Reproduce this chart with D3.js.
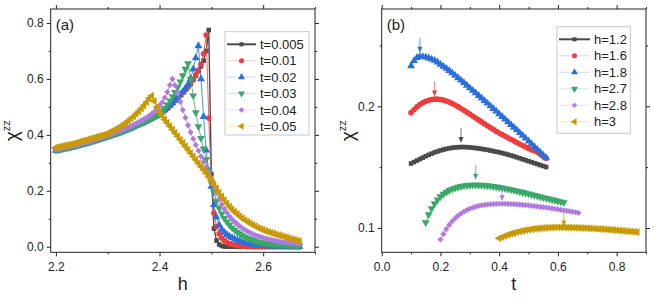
<!DOCTYPE html>
<html>
<head>
<meta charset="utf-8">
<script src="https://cdn.jsdelivr.net/npm/d3@7"></script>
<style>
  body { margin: 0; background: #fff; }
  svg { display: block; }
  text { font-family: "Liberation Sans", Arial, sans-serif; fill: #222; }
</style>
</head>
<body>
<div id="chart"></div>
<script>
// ---------- panel (a): chi_zz vs h, one series per temperature t ----------
let hGrid = [
  2.200, 2.205, 2.210, 2.215, 2.220, 2.225, 2.230, 2.235, 2.240, 2.245,
  2.250, 2.255, 2.260, 2.265, 2.270, 2.275, 2.280, 2.285, 2.290, 2.295,
  2.300, 2.305, 2.310, 2.315, 2.320, 2.325, 2.330, 2.335, 2.340, 2.345,
  2.350, 2.355, 2.360, 2.365, 2.370, 2.375, 2.380, 2.385, 2.390, 2.395,
  2.400, 2.405, 2.410, 2.415, 2.420, 2.425, 2.430, 2.435, 2.440, 2.445,
  2.450, 2.455, 2.460, 2.465, 2.470, 2.475, 2.480, 2.485, 2.490, 2.495,
  2.500, 2.505, 2.510, 2.515, 2.520, 2.525, 2.530, 2.535, 2.540, 2.545,
  2.550, 2.555, 2.560, 2.565, 2.570, 2.575, 2.580, 2.585, 2.590, 2.595,
  2.600, 2.605, 2.610, 2.615, 2.620, 2.625, 2.630, 2.635, 2.640, 2.645,
  2.650, 2.655, 2.660, 2.665, 2.670
];

let chiA_t0005 = [
  .343, .345, .347, .349, .351, .353, .355, .357, .360, .362,
  .365, .367, .370, .372, .375, .378, .381, .384, .387, .390,
  .393, .396, .399, .402, .405, .409, .412, .416, .420, .424,
  .428, .432, .436, .440, .444, .449, .453, .458, .463, .467,
  .472, .479, .487, .495, .504, .513, .522, .531, .541, .551,
  .561, .571, .582, .596, .612, .628, .645, .665, .700, .775,
  .260, .065, .022, .008, .003, .001, 0, 0, 0, 0,
  0, 0, 0, 0, 0, 0, 0, 0, 0, 0,
  0, 0, 0, 0, 0, 0, 0, 0, 0, 0,
  0, 0, 0, 0, 0
];
let chiA_t001 = [
  .344, .346, .348, .350, .352, .354, .356, .358, .361, .363,
  .366, .368, .371, .373, .376, .379, .382, .385, .388, .391,
  .394, .397, .400, .403, .406, .410, .413, .417, .421, .425,
  .429, .433, .437, .441, .445, .450, .454, .459, .464, .468,
  .473, .480, .488, .496, .505, .514, .523, .532, .542, .552,
  .562, .573, .585, .599, .615, .632, .652, .690, .757, .460,
  .230, .120, .072, .046, .031, .022, .015, .011, .008, .006,
  .004, .003, .002, .002, .001, .001, 0, 0, 0, 0,
  0, 0, 0, 0, 0, 0, 0, 0, 0, 0,
  0, 0, 0, 0, 0
];
let chiA_t002 = [
  .344, .346, .348, .350, .352, .354, .356, .358, .361, .363,
  .366, .368, .371, .373, .376, .379, .382, .385, .388, .391,
  .394, .397, .400, .403, .406, .410, .413, .417, .421, .425,
  .429, .433, .437, .441, .446, .450, .455, .460, .465, .469,
  .474, .481, .489, .497, .506, .515, .524, .534, .544, .554,
  .566, .580, .600, .635, .675, .718, .600, .465, .345, .272,
  .215, .150, .105, .078, .062, .051, .043, .037, .032, .027,
  .023, .020, .017, .014, .012, .010, .008, .007, .006, .005,
  .004, .004, .003, .003, .002, .002, .002, .001, .001, .001,
  .001, .001, 0, 0, 0
];
let chiA_t003 = [
  .345, .347, .349, .351, .353, .355, .357, .359, .362, .364,
  .367, .369, .372, .374, .377, .380, .383, .386, .389, .392,
  .395, .398, .401, .404, .407, .411, .414, .418, .422, .426,
  .430, .434, .438, .442, .447, .451, .456, .461, .466, .471,
  .476, .485, .495, .508, .522, .537, .552, .570, .590, .612,
  .635, .655, .600, .540, .480, .430, .388, .350, .312, .272,
  .232, .195, .163, .138, .118, .102, .089, .078, .068, .060,
  .052, .046, .040, .035, .031, .027, .024, .021, .018, .016,
  .014, .012, .011, .010, .009, .008, .007, .006, .005, .005,
  .004, .004, .003, .003, .003
];
let chiA_t004 = [
  .347, .349, .351, .353, .355, .357, .359, .361, .364, .366,
  .369, .371, .374, .376, .379, .382, .385, .388, .391, .394,
  .398, .401, .404, .408, .411, .415, .419, .423, .427, .431,
  .436, .441, .446, .451, .456, .462, .468, .475, .483, .492,
  .503, .516, .533, .553, .578, .600, .577, .548, .518, .489,
  .461, .434, .409, .386, .364, .343, .323, .304, .286, .266,
  .246, .218, .192, .170, .151, .135, .121, .109, .098, .089,
  .081, .073, .066, .060, .055, .050, .045, .041, .038, .035,
  .032, .029, .027, .025, .023, .021, .019, .017, .016, .015,
  .014, .013, .012, .011, .010
];
let chiA_t005 = [
  .355, .357, .359, .361, .363, .365, .367, .369, .372, .375,
  .378, .380, .383, .386, .388, .391, .394, .396, .399, .402,
  .405, .410, .415, .420, .425, .431, .437, .443, .450, .458,
  .466, .475, .484, .494, .505, .517, .530, .540, .520, .500,
  .482, .468, .455, .443, .431, .419, .407, .395, .383, .371,
  .359, .347, .335, .323, .311, .299, .287, .275, .263, .250,
  .238, .223, .208, .194, .180, .167, .155, .144, .134, .125,
  .117, .109, .102, .095, .089, .083, .078, .073, .068, .064,
  .060, .056, .053, .050, .047, .044, .041, .039, .036, .034,
  .030, .027, .025, .022, .020
];
let legendA = ['t=0.005', 't=0.01', 't=0.02', 't=0.03', 't=0.04', 't=0.05'];
let xTicksA = [2.2, 2.4, 2.6], xMinorA = [2.3, 2.5, 2.7];
let yTicksA = [0, 0.2, 0.4, 0.6, 0.8], yMinorA = [0.1, 0.3, 0.5, 0.7];

// ---------- panel (b): chi_zz vs t, one series per field h ----------
let tGrid = [
  0.10, 0.11, 0.12, 0.13, 0.14, 0.15, 0.16, 0.17, 0.18, 0.19,
  0.20, 0.21, 0.22, 0.23, 0.24, 0.25, 0.26, 0.27, 0.28, 0.29,
  0.30, 0.31, 0.32, 0.33, 0.34, 0.35, 0.36, 0.37, 0.38, 0.39,
  0.40, 0.41, 0.42, 0.43, 0.44, 0.45, 0.46, 0.47, 0.48, 0.49,
  0.50, 0.51, 0.52, 0.53, 0.54, 0.55, 0.56, 0.57, 0.58, 0.59,
  0.60, 0.61, 0.62, 0.63, 0.64, 0.65, 0.66, 0.67, 0.68, 0.69,
  0.70, 0.71, 0.72, 0.73, 0.74, 0.75, 0.76, 0.77, 0.78, 0.79,
  0.80, 0.81, 0.82, 0.83, 0.84, 0.85, 0.86, 0.87
];
// first t of each series (looked up in tGrid)
let startB = [0.10, 0.10, 0.10, 0.15, 0.20, 0.40];

let chiB_h12 = [
  .1530, .1542, .1554, .1566, .1578, .1590, .1601, .1611, .1621, .1629,
  .1637, .1644, .1650, .1655, .1659, .1662, .1664, .1665, .1665, .1664,
  .1662, .1660, .1657, .1654, .1650, .1646, .1642, .1637, .1632, .1627,
  .1622, .1616, .1610, .1603, .1596, .1589, .1581, .1573, .1565, .1557,
  .1549, .1541, .1533, .1525, .1517, .1509, .1501
];
let chiB_h16 = [
  .1948, .1972, .1995, .2014, .2029, .2041, .2050, .2056, .2059, .2059,
  .2056, .2051, .2044, .2035, .2024, .2011, .1997, .1982, .1967, .1952,
  .1936, .1920, .1904, .1888, .1872, .1856, .1840, .1825, .1810, .1795,
  .1781, .1768, .1755, .1742, .1729, .1716, .1703, .1690, .1678, .1666,
  .1654, .1642, .1636, .1622, .1606, .1590, .1574
];
let chiB_h18 = [
  .2332, .2375, .2400, .2410, .2408, .2403, .2396, .2387, .2376, .2363,
  .2345, .2328, .2311, .2293, .2274, .2254, .2234, .2214, .2193, .2172,
  .2151, .2130, .2109, .2088, .2067, .2046, .2025, .2003, .1981, .1959,
  .1937, .1915, .1893, .1871, .1849, .1827, .1805, .1783, .1760, .1737,
  .1714, .1691, .1668, .1645, .1622, .1599, .1576
];
let chiB_h27 = [
  .1045, .1110, .1160, .1200, .1232, .1258, .1278, .1295, .1309, .1320,
  .1329, .1336, .1342, .1347, .1350, .1352, .1353, .1354, .1353, .1352,
  .1350, .1348, .1345, .1342, .1338, .1334, .1330, .1325, .1320, .1315,
  .1310, .1304, .1299, .1293, .1287, .1281, .1275, .1269, .1263, .1257,
  .1251, .1245, .1239, .1233, .1227, .1221, .1215, .1209
];
let chiB_h28 = [
  .0905, .0950, .0990, .1025, .1055, .1080, .1101, .1119, .1134, .1147,
  .1158, .1167, .1175, .1181, .1186, .1190, .1193, .1195, .1197, .1198,
  .1199, .1199, .1199, .1198, .1197, .1196, .1194, .1192, .1190, .1188,
  .1186, .1183, .1180, .1177, .1174, .1171, .1168, .1165, .1161, .1157,
  .1153, .1149, .1145, .1141, .1137, .1133, .1129, .1125
];
let chiB_h3 = [
  .0915, .0925, .0935, .0944, .0952, .0959, .0966, .0972, .0977, .0982,
  .0986, .0990, .0993, .0996, .0998, .1000, .1002, .1003, .1004, .1005,
  .1005, .1005, .1005, .1004, .1004, .1003, .1002, .1001, .1000, .0999,
  .0998, .0997, .0995, .0994, .0992, .0991, .0989, .0987, .0985, .0983,
  .0981, .0979, .0977, .0975, .0973, .0971, .0969, .0967
];
let legendB = ['h=1.2', 'h=1.6', 'h=1.8', 'h=2.7', 'h=2.8', 'h=3'];
// arrows marking each maximum: position t and tip value
let arrowT   = [0.27, 0.18, 0.13, 0.32, 0.41, 0.62];
let arrowTip = [0.1698, 0.2081, 0.2440, 0.1397, 0.1219, 0.1013];
let xTicksB = [0, 0.2, 0.4, 0.6, 0.8], xMinorB = [0.1, 0.3, 0.5, 0.7, 0.9];
let yTicksB = [0.1, 0.2], yMinorB = [0.15, 0.25];

// ---------- styles ----------
let colors = ['#4a4a4a', '#f03c3c', '#2a6fdb', '#3aa867', '#b07ae3', '#c99a06'];
let shapes = [d3.symbolSquare, d3.symbolCircle, d3.symbolTriangle, d3.symbolTriangle, d3.symbolSquare, d3.symbolTriangle];
let rotations = [0, 0, 0, 180, 45, -90];
let symSizes = [21, 25, 27, 27, 19, 27];

let svg = d3.select('#chart').append('svg')
    .attr('width', 654)
    .attr('height', 301);

function drawPanel(p) {
    let g = svg.append('g');
    let x = d3.scaleLinear().domain(p.xDomain).range([p.left, p.right]);
    let y = d3.scaleLinear().domain(p.yDomain).range([p.bottom, p.top]);
    let fmt = d3.format('.1f');

    let axes = [
        [d3.axisBottom(x).tickValues(p.xMajor).tickSize(4).tickPadding(6).tickFormat(fmt), 0, p.bottom],
        [d3.axisBottom(x).tickValues(p.xMinor).tickSize(2).tickFormat(''), 0, p.bottom],
        [d3.axisTop(x).tickValues(p.xMajor).tickSize(4).tickFormat(''), 0, p.top],
        [d3.axisTop(x).tickValues(p.xMinor).tickSize(2).tickFormat(''), 0, p.top],
        [d3.axisLeft(y).tickValues(p.yMajor).tickSize(4).tickPadding(3).tickFormat(fmt), p.left, 0],
        [d3.axisLeft(y).tickValues(p.yMinor).tickSize(2).tickFormat(''), p.left, 0],
        [d3.axisRight(y).tickValues(p.yMajor).tickSize(4).tickFormat(''), p.right, 0],
        [d3.axisRight(y).tickValues(p.yMinor).tickSize(2).tickFormat(''), p.right, 0]
    ];
    axes.forEach(function(a) {
        let ag = g.append('g')
            .attr('transform', 'translate(' + a[1] + ',' + a[2] + ')')
            .call(a[0]);
        ag.select('.domain').remove();
        ag.attr('font-family', null).attr('font-size', 12);
        ag.selectAll('line').attr('stroke', '#222');
        ag.selectAll('text').attr('fill', '#222');
    });

    g.append('rect')
        .attr('x', p.left).attr('y', p.top)
        .attr('width', p.right - p.left).attr('height', p.bottom - p.top)
        .attr('fill', 'none').attr('stroke', '#222').attr('stroke-width', 1);

    // panel tag
    g.append('text').attr('x', p.left + 5).attr('y', p.top + 21)
        .attr('font-size', 15).text(p.tag);

    // axis titles
    g.append('text')
        .attr('x', (p.left + p.right) / 2).attr('y', 290)
        .attr('text-anchor', 'middle').attr('font-size', 18)
        .text(p.xTitle);

    let yt = g.append('text')
        .attr('transform', 'translate(' + p.yTitleX + ',' + ((p.top + p.bottom) / 2) + ') rotate(-90)')
        .attr('text-anchor', 'middle').attr('font-size', 19);
    yt.append('tspan').text('\u03c7');
    yt.append('tspan').attr('font-size', 11).attr('dy', -8).text('zz');

    // series
    let line = d3.line().x(function(d){ return x(d[0]); }).y(function(d){ return y(d[1]); });
    p.series.forEach(function(pts, k) {
        g.append('path')
            .attr('d', line(pts))
            .attr('fill', 'none')
            .attr('stroke', colors[k])
            .attr('stroke-width', k === 0 ? 1.4 : 1)
            .attr('stroke-opacity', k === 0 ? 1 : 0.8);
        g.append('g').selectAll('path')
            .data(pts)
            .join('path')
            .attr('transform', function(d){
                return 'translate(' + x(d[0]) + ',' + y(d[1]) + ') rotate(' + rotations[k] + ')';
            })
            .attr('d', d3.symbol(shapes[k], symSizes[k]))
            .attr('fill', colors[k]);
    });

    // legend
    let lg = g.append('g');
    lg.append('rect')
        .attr('x', p.legend.x).attr('y', p.legend.y)
        .attr('width', p.legend.w).attr('height', p.legend.h)
        .attr('fill', '#fff').attr('stroke', '#c8c8c8');
    p.names.forEach(function(name, k) {
        let ry = p.legend.y + p.legend.row0 + k * p.legend.dy;
        let lx = p.legend.x + 2;
        lg.append('line')
            .attr('x1', lx).attr('x2', lx + p.legend.lineW)
            .attr('y1', ry).attr('y2', ry)
            .attr('stroke', colors[k])
            .attr('stroke-width', k === 0 ? 2 : 1)
            .attr('stroke-opacity', k === 0 ? 1 : 0.25);
        lg.append('path')
            .attr('transform', 'translate(' + (lx + p.legend.lineW / 2) + ',' + ry + ') rotate(' + rotations[k] + ')')
            .attr('d', d3.symbol(shapes[k], symSizes[k] * 0.8))
            .attr('fill', colors[k]);
        lg.append('text')
            .attr('x', lx + p.legend.lineW + 4).attr('y', ry)
            .attr('dy', '0.36em').attr('font-size', 13)
            .text(name);
    });

    return {g: g, x: x, y: y};
}

// panel (a)
let seriesA = [chiA_t0005, chiA_t001, chiA_t002, chiA_t003, chiA_t004, chiA_t005]
    .map(function(vals){ return d3.zip(hGrid, vals); });

drawPanel({
    left: 50.7, right: 315, top: 9, bottom: 252.3,
    xDomain: [2.19, 2.7], yDomain: [-0.02, 0.85],
    xMajor: xTicksA, xMinor: xMinorA, yMajor: yTicksA, yMinor: yMinorA,
    tag: '(a)', xTitle: 'h', yTitleX: 18,
    series: seriesA, names: legendA,
    legend: {x: 225, y: 31.7, w: 84, h: 103.3, row0: 12.6, dy: 16.4, lineW: 29}
});

// panel (b)
let seriesB = [chiB_h12, chiB_h16, chiB_h18, chiB_h27, chiB_h28, chiB_h3]
    .map(function(vals, k){
        let i0 = tGrid.indexOf(startB[k]);
        return vals.map(function(v, j){ return [tGrid[i0 + j], v]; });
    });

let pb = drawPanel({
    left: 381.7, right: 646, top: 9, bottom: 252.3,
    xDomain: [0, 0.9], yDomain: [0.08, 0.28],
    xMajor: xTicksB, xMinor: xMinorB, yMajor: yTicksB, yMinor: yMinorB,
    tag: '(b)', xTitle: 't', yTitleX: 354,
    series: seriesB, names: legendB,
    legend: {x: 557, y: 26.7, w: 73.3, h: 106.6, row0: 12.6, dy: 16.5, lineW: 31}
});

// arrows at the maxima in panel (b)
arrowT.forEach(function(t, k) {
    let ax = pb.x(t), ay = pb.y(arrowTip[k]);
    pb.g.append('line')
        .attr('x1', ax).attr('x2', ax)
        .attr('y1', ay - 15).attr('y2', ay - 4)
        .attr('stroke', colors[k]).attr('stroke-width', 1.2)
        .attr('stroke-opacity', 0.6);
    pb.g.append('path')
        .attr('d', 'M' + (ax - 2.5) + ',' + (ay - 6) + 'L' + (ax + 2.5) + ',' + (ay - 6) + 'L' + ax + ',' + ay + 'Z')
        .attr('fill', colors[k]);
});
</script>
</body>
</html>
